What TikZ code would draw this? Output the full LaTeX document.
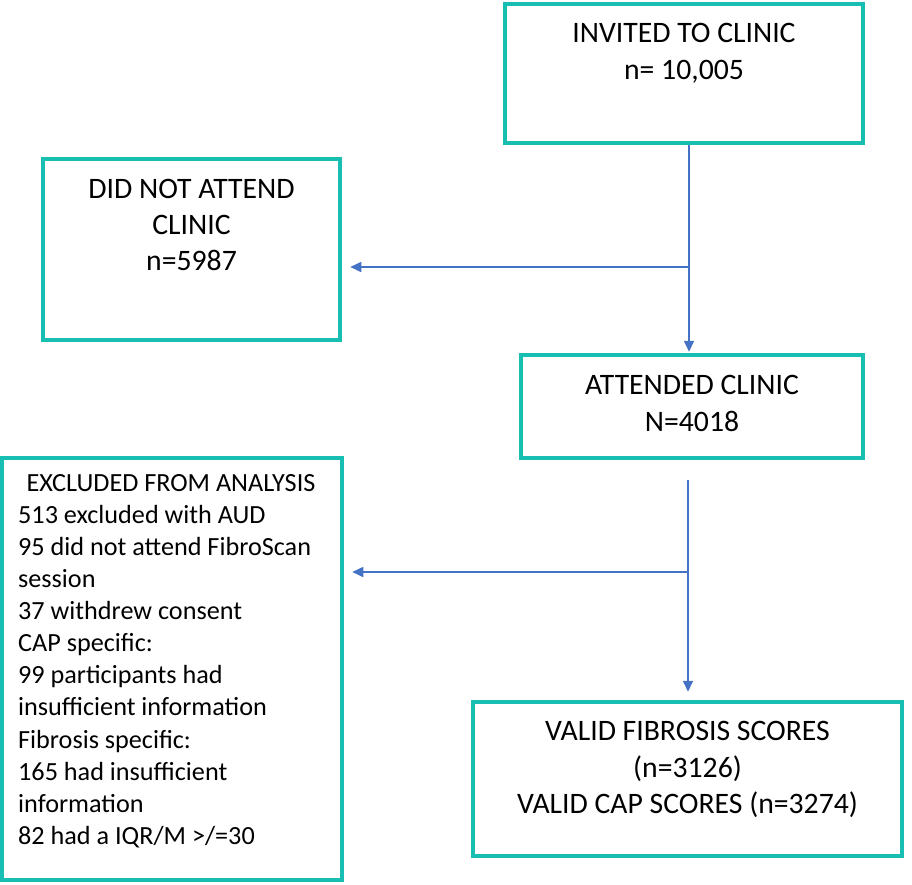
\documentclass[tikz,border=0pt]{standalone}
\usepackage{fontspec}
\setmainfont{Carlito}
\usetikzlibrary{arrows.meta}
\definecolor{boxteal}{RGB}{24,190,178}
\definecolor{arrowblue}{RGB}{68,114,196}
\tikzset{
  flowbox/.style={draw=boxteal, line width=4.5pt, fill=none, inner sep=0pt},
  bigtext/.style={font=\fontsize{29.7}{37}\selectfont, anchor=base, inner sep=0pt},
  smalltext/.style={font=\fontsize{26.2}{32}\selectfont, anchor=base west, inner sep=0pt},
  flowarrow/.style={draw=arrowblue, line width=1.6pt, -{Triangle[length=11pt,width=10pt]}},
  flowline/.style={draw=arrowblue, line width=1.6pt}
}
\begin{document}
\begin{tikzpicture}[x=1pt,y=-1pt]
\useasboundingbox (0,0) rectangle (912,884);
% boxes
\node[flowbox, minimum width=358pt, minimum height=139pt] (b1) at (684,73.5) {};
\node[flowbox, minimum width=297pt, minimum height=181pt] (b2) at (191.5,249.5) {};
\node[flowbox, minimum width=342pt, minimum height=103pt] (b3) at (692,406.5) {};
\node[flowbox, minimum width=340pt, minimum height=422pt] (b4) at (172,669) {};
\node[flowbox, minimum width=429pt, minimum height=154pt] (b5) at (687.5,779) {};
% texts
\node[bigtext] (t1a) at (684,42) {INVITED TO CLINIC};
\node[bigtext] (t1b) at (684,79) {n= 10,005};
\node[bigtext] (t2a) at (191.5,198) {DID NOT ATTEND};
\node[bigtext] (t2b) at (191.5,234) {CLINIC};
\node[bigtext] (t2c) at (191.5,270) {n=5987};
\node[bigtext] (t3a) at (692,394) {ATTENDED CLINIC};
\node[bigtext] (t3b) at (692,431) {N=4018};
\node[bigtext] (t5a) at (687.5,740) {VALID FIBROSIS SCORES};
\node[bigtext] (t5b) at (687.5,777) {(n=3126)};
\node[bigtext] (t5c) at (687.5,813) {VALID CAP SCORES (n=3274)};
\node[smalltext, anchor=base] (t4a) at (171,491) {EXCLUDED FROM ANALYSIS};
\node[smalltext] (t4b) at (18,523) {513 excluded with AUD};
\node[smalltext] (t4c) at (18,555) {95 did not attend FibroScan};
\node[smalltext] (t4d) at (18,587) {session};
\node[smalltext] (t4e) at (18,619) {37 withdrew consent};
\node[smalltext] (t4f) at (18,651) {CAP specific:};
\node[smalltext] (t4g) at (18,683) {99 participants had};
\node[smalltext] (t4h) at (18,715) {insufficient information};
\node[smalltext] (t4i) at (18,748) {Fibrosis specific:};
\node[smalltext] (t4j) at (18,780) {165 had insufficient};
\node[smalltext] (t4k) at (18,812) {information};
\node[smalltext] (t4l) at (18,844) {82 had a IQR/M >/=30};
% connectors
\coordinate (j1) at (689,267);
\coordinate (j2) at (688,572);
\coordinate (s2) at (688,480);
\draw[flowarrow, shorten >=1pt] (b1.south -| j1) -- (b3.north -| j1);
\draw[flowarrow, shorten >=8pt] (j1) -- (b2.east |- j1);
\draw[flowarrow, shorten >=8pt] (s2) -- (b5.north -| s2);
\draw[flowarrow, shorten >=8pt] (j2) -- (b4.east |- j2);
\end{tikzpicture}
\end{document}
